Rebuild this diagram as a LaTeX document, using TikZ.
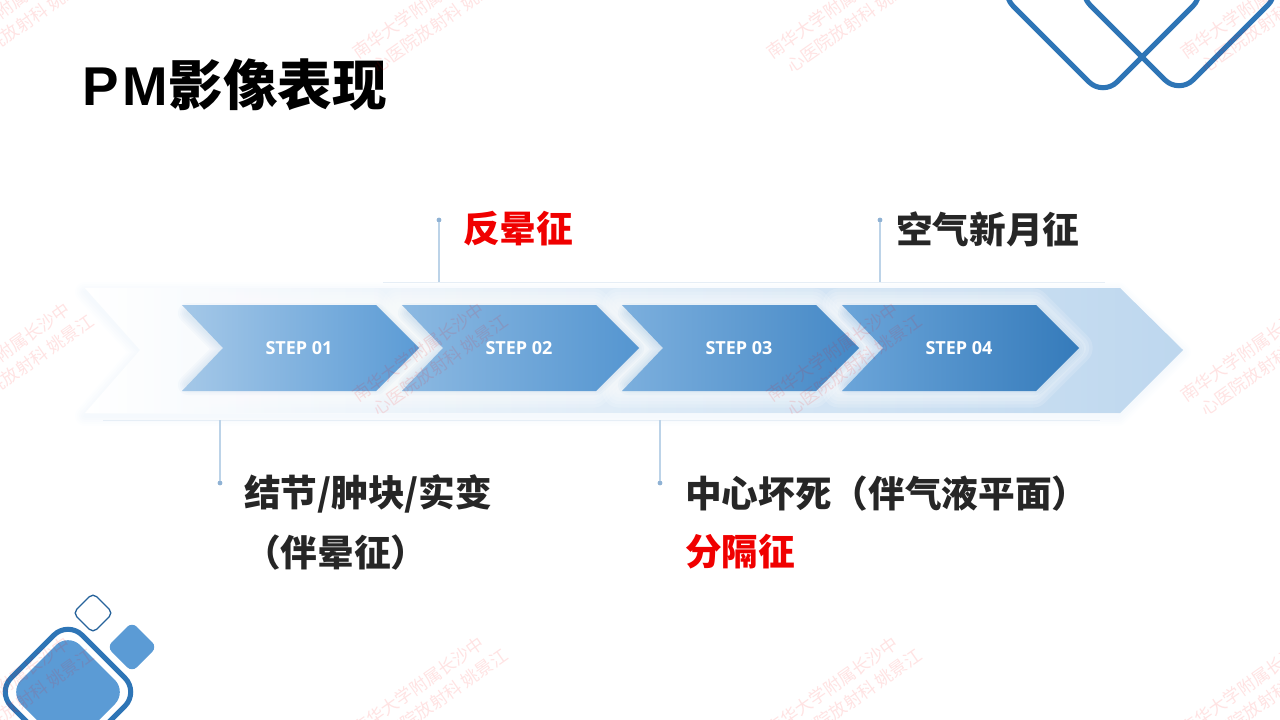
\documentclass[tikz,border=0pt]{standalone}
\usepackage{fontspec}
\setmainfont{Noto Sans CJK SC}
\newfontfamily\latinbold{Liberation Sans}
\newfontfamily\stepfont{Open Sans}
\usetikzlibrary{positioning}
\definecolor{linkblue}{HTML}{2E75B6}
\definecolor{softblue}{HTML}{5B9BD5}
\definecolor{leaderblue}{HTML}{BCD3E8}
\definecolor{dotblue}{HTML}{8FB2D4}
\definecolor{hairline}{HTML}{E6EEF6}
\definecolor{inktext}{HTML}{262626}
\definecolor{alertred}{HTML}{F00000}
\tikzset{
  every node/.style = {inner sep = 0pt, outer sep = 0pt},
  bodytext/.style = {font = \fontsize{27.5}{33}\selectfont\bfseries, text = inktext, anchor = west},
  alerttext/.style = {bodytext, text = alertred},
  steplabel/.style = {font = \fontsize{13.5}{16}\selectfont\stepfont\bfseries, text = white},
  leaderline/.style = {draw = leaderblue, line width = 0.9pt},
  leaderdot/.style = {circle, fill = dotblue, minimum size = 3.6pt},
  stamp/.style = {font = \fontsize{13}{17}\selectfont, text = red, text opacity = 0.11, rotate = 35, align = left}
}
\begin{document}
\begin{tikzpicture}[x = 0.75pt, y = -0.75pt]
\useasboundingbox (0,0) rectangle (1280,720);
\begin{scope}
\clip (0,0) rectangle (1280,720);
% corner marks
\draw[linkblue, line width = 3.8pt, rounded corners = 15pt] (999,-8) -- (1103,96) -- (1207,-8) -- (1103,-112) -- cycle;
\draw[linkblue, line width = 3.8pt, rounded corners = 15pt] (1076,-9) -- (1179,94) -- (1282,-9) -- (1179,-112) -- cycle;
\draw[linkblue, line width = 3.8pt, rounded corners = 15pt] (-3,692) -- (68,621) -- (139,692) -- (68,763) -- cycle;
\fill[softblue, rounded corners = 13pt] (9,692) -- (68,633) -- (127,692) -- (68,751) -- cycle;
\fill[softblue, rounded corners = 5pt] (107,647) -- (132,622) -- (157,647) -- (132,672) -- cycle;
\draw[linkblue!85!black, line width = 1pt, rounded corners = 4pt] (73,613) -- (93,593) -- (113,613) -- (93,633) -- cycle;
% band
\foreach \w in {3,6,...,15}
  \draw[softblue, opacity = 0.012, line width = \w pt, line join = round]
    (85,292) -- (1118,292) -- (1181,352) -- (1118,416) -- (85,416) -- (140,352) -- cycle;
\shade[left color = white, middle color = softblue!17!white, right color = softblue!40!white]
  (85,288) -- (1120,288) -- (1183,350) -- (1120,413) -- (85,413) -- (140,350) -- cycle;
% halos and shadows
\foreach \x in {182,402,622,842}{
  \foreach \w in {5,10,...,25}
    \draw[white, opacity = 0.16, line width = \w pt, line join = round]
      (\x-3,348) ++(0,-43) -- ++(194,0) -- ++(43,43) -- ++(-43,43) -- ++(-194,0) -- ++(41,-43) -- cycle;
}
\foreach \x/\a in {182/0.035,402/0.04,622/0.045,842/0.05}{
  \foreach \w in {3,6,...,15}
    \draw[softblue, opacity = \a, line width = \w pt, line join = round]
      (\x+6,313) -- ++(188,0) -- ++(38,36) -- ++(-38,36) -- ++(-188,0) -- ++(36,-36) -- cycle;
}
% arrows
\shade[left color = softblue!55!white, right color = softblue] (182,305) -- (376,305) -- (419,348) -- (376,391) -- (182,391) -- (223,348) -- cycle;
\shade[left color = softblue!70!white, right color = softblue!85!linkblue] (402,305) -- (596,305) -- (639,348) -- (596,391) -- (402,391) -- (443,348) -- cycle;
\shade[left color = softblue!80!white, right color = softblue!50!linkblue] (622,305) -- (816,305) -- (859,348) -- (816,391) -- (622,391) -- (663,348) -- cycle;
\shade[left color = softblue!90!white, right color = linkblue!85!softblue] (842,305) -- (1036,305) -- (1079,348) -- (1036,391) -- (842,391) -- (883,348) -- cycle;
\end{scope}
% title
\node[anchor = west, font = \fontsize{41}{48}\selectfont\bfseries] (title) at (82,85) {{\latinbold\addfontfeature{LetterSpace=8}PM}影像表现};
% step labels
\node[steplabel] (step1) at (299,348) {STEP 01};
\node[steplabel] (step2) at (519,348) {STEP 02};
\node[steplabel] (step3) at (739,348) {STEP 03};
\node[steplabel] (step4) at (959,348) {STEP 04};
% hairlines
\coordinate (hairA) at (383,282);
\coordinate (hairB) at (1105,282);
\coordinate (hairC) at (103,420);
\coordinate (hairD) at (1100,420);
\draw[hairline, line width = 0.7pt] (hairA) -- (hairB);
\draw[hairline, line width = 0.7pt] (hairC) -- (hairD);
% leaders
\node[leaderdot] (dot1) at (439,220) {};
\node[leaderdot] (dot2) at (880,220) {};
\node[leaderdot] (dot3) at (220,483) {};
\node[leaderdot] (dot4) at (660,483) {};
\coordinate (foot1) at (439,282);
\coordinate (foot2) at (880,282);
\coordinate (foot3) at (220,420);
\coordinate (foot4) at (660,420);
\draw[leaderline] (dot1) -- (foot1);
\draw[leaderline] (dot2) -- (foot2);
\draw[leaderline] (dot3) -- (foot3);
\draw[leaderline] (dot4) -- (foot4);
% labels
\node[alerttext] (sign1) at (463,229) {反晕征};
\node[bodytext] (sign2) at (896,229) {空气新月征};
\node[bodytext] (sign3) at (244,494) {结节/肿块/实变};
\node[bodytext] (sign4) at (244,553) {（伴晕征）};
\node[bodytext] (sign5) at (685,494) {中心坏死（伴气液平面）};
\node[alerttext] (sign6) at (685,552) {分隔征};
% stamps
\foreach \x/\y [count = \i] in {16/15,430/15,844/15,1258/15,16/358,430/358,844/358,1258/358,16/692,430/692,844/692,1258/692}
  \node[stamp] (stamp\i) at (\x,\y) {南华大学附属长沙中\\\hspace*{0.5em}心医院放射科 姚景江};
\end{tikzpicture}
\end{document}
